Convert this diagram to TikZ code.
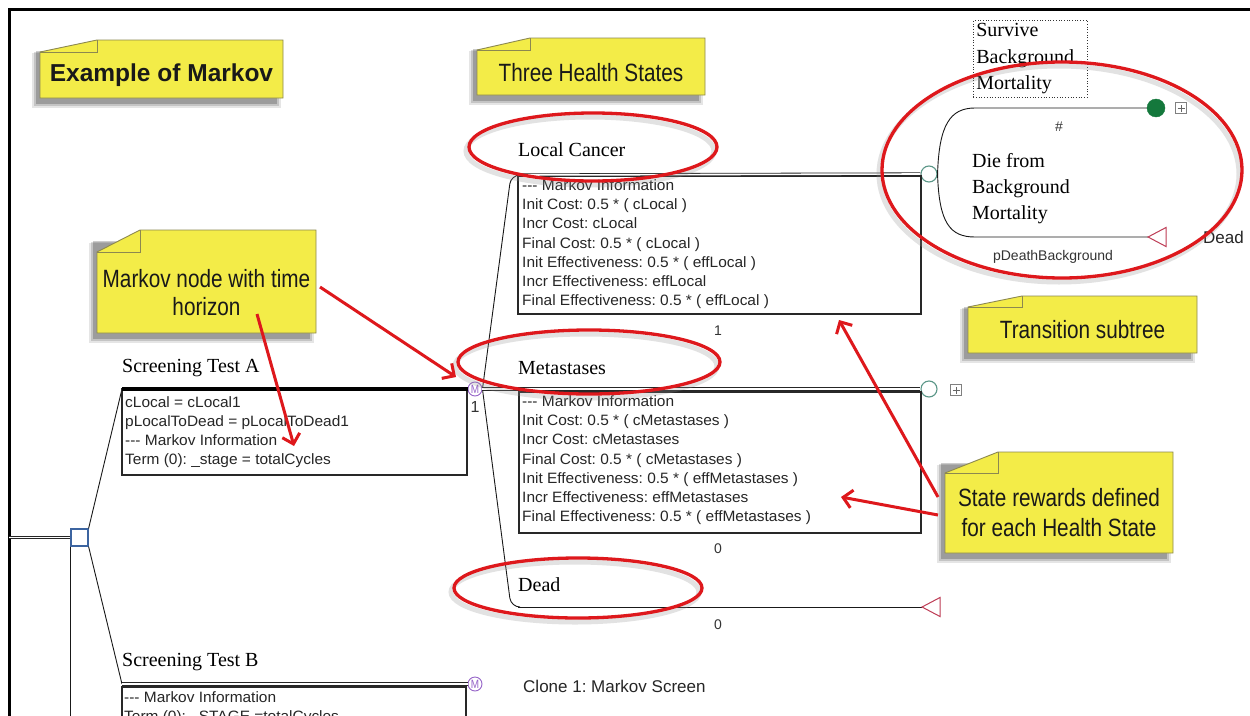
\documentclass[tikz,border=0pt]{standalone}
\usepackage{fontspec}
\setmainfont{Liberation Serif}
\newfontfamily\arialf{Liberation Sans}
\newfontfamily\infof[FakeStretch=1.03]{Liberation Sans}
\newfontfamily\narrowf[FakeStretch=0.83]{Liberation Sans}
\usetikzlibrary{arrows.meta,calc}
\frenchspacing

\definecolor{noteyellow}{RGB}{243,236,72}
\definecolor{noteedge}{RGB}{140,136,80}
\definecolor{markred}{RGB}{222,24,28}
\definecolor{chanceteal}{RGB}{90,150,135}
\definecolor{markovpurple}{RGB}{150,100,200}
\definecolor{termred}{RGB}{190,60,85}
\definecolor{decblue}{RGB}{60,100,160}
\definecolor{boxedge}{RGB}{40,40,40}
\definecolor{survgreen}{RGB}{20,120,60}

\newcommand\tripledash{-\kern0pt-\kern0pt-}

\tikzset{
  dbl/.style={draw=black!85, double=white, double distance=1.6pt, line width=0.8pt},
  branchline/.style={draw=black!90, line width=0.9pt},
  thickbranch/.style={draw=black, line width=4.5pt},
  infobox/.style={draw=boxedge, line width=1.3pt},
  infotext/.style={font=\infof\fontsize{15}{19.2}\selectfont, text=black!85, align=left, anchor=north west, inner sep=0pt},
  tlabel/.style={font=\fontsize{20}{26}\selectfont, anchor=west, inner sep=0pt},
  smalltext/.style={font=\arialf\fontsize{14}{16}\selectfont, text=black!80, inner sep=0pt},
  chance/.style={circle, draw=chanceteal, line width=1.1pt, fill=white, minimum size=16pt, inner sep=0pt},
  markov/.style={circle, draw=markovpurple, line width=0.9pt, fill=white, minimum size=14pt, inner sep=0pt, text=markovpurple, font=\narrowf\fontsize{12}{12}\selectfont},
  decision/.style={rectangle, draw=decblue, line width=1.2pt, fill=white, minimum size=17pt, inner sep=0pt},
  plusbox/.style={rectangle, draw=black!50, line width=0.7pt, minimum size=11pt, inner sep=0pt, fill=white,
    path picture={\draw[black!60, line width=0.7pt]
      ([xshift=-3.5pt]path picture bounding box.center) -- ([xshift=3.5pt]path picture bounding box.center)
      ([yshift=-3.5pt]path picture bounding box.center) -- ([yshift=3.5pt]path picture bounding box.center);}},
  termtri/.style={draw=termred, line width=1pt, fill=white},
  notebody/.style={fill=noteyellow, draw=noteedge, line width=0.9pt},
  notefold/.style={draw=noteedge, line width=0.9pt},
  notetext/.style={text=black!90, align=center, inner sep=0pt},
  ring/.style={draw=markred, line width=3.3pt},
  ringshadow/.style={draw=black!45, opacity=.25, line width=5pt},
  callout/.style={draw=markred, line width=3pt, -{Straight Barb[length=9pt,width=18pt]}},
}

% sticky note: name, left, top, right, bottom, tab width, tab height, font, text
\newcommand\stickynote[9]{%
  \fill[black, opacity=.10] (#2-8,#3+13) rectangle (#4-2,#5+10);
  \fill[black, opacity=.14] (#2-6,#3+12) rectangle (#4-4,#5+8);
  \fill[black, opacity=.20] (#2-4,#3+11) rectangle (#4-6,#5+6);
  \filldraw[notebody] (#2,#5) -- (#2,#3+#7) -- (#2+#6,#3) -- (#4,#3) -- (#4,#5) -- cycle;
  \draw[notefold] (#2,#3+#7) -- (#2+#6,#3+#7) -- (#2+#6,#3);
  \node[notetext, font=#8] (#1) at ({(#2+#4)/2},{(#3+#7+#5)/2}) {#9};
}

\begin{document}
\begin{tikzpicture}[x=1pt,y=-1pt]
\useasboundingbox (0,0) rectangle (1250,715);
\clip (0,0) rectangle (1250,715);
\fill[white] (0,0) rectangle (1250,715);

% frame
\draw[line width=3pt] (9,720) -- (9,9) -- (1255,9);

% ---------- decision node and strategies ----------
\node[decision] (dec) at (79.5,537.5) {};
\draw[dbl] (9,537.5) -- (dec.west);
\draw[branchline] (dec.south west) -- ++(0,200);

\coordinate (Astart) at (122,389);
\coordinate (Bstart) at (122,684);
\node[markov] (mA) at (475,389) {M};
\node[markov] (mB) at (475,684) {M};

\draw[branchline] (dec.north east) -- (Astart);
\draw[branchline] (dec.south east) -- (Bstart);

\draw[infobox] (122,389) rectangle (467,475);
\draw[thickbranch] (Astart) -- (mA.west);
\node[tlabel] (labA) at (122,368) {Screening Test A};
\node[infotext] (txtA) at (125,396) {cLocal = cLocal1\\pLocalToDead = pLocalToDead1\\\tripledash{} Markov Information\\Term (0): \_stage = totalCycles};
\node[smalltext, font=\arialf\fontsize{16}{18}\selectfont] (oneA) at (475,407) {1};

\draw[infobox] (122,687) rectangle (466,760);
\draw[dbl] (Bstart) -- (mB.west);
\node[tlabel] (labB) at (122,662) {Screening Test B};
\node[infotext] (txtB) at (124,691) {\tripledash{} Markov Information\\Term (0): \_STAGE =totalCycles};
\node[font=\arialf\fontsize{17}{19}\selectfont, anchor=west, inner sep=0pt, text=black!85] (clone) at (523,686) {Clone 1: Markov Screen};

% ---------- Markov health states ----------
\coordinate (lcStart) at (518,175);
\coordinate (deadStart) at (518,607);
\coordinate (tDead) at (922,607);
\node[chance] (chLC) at (929,174) {};
\node[chance] (chMet) at (929,389) {};
\node[plusbox] (plMet) at (956,390) {};

\draw[branchline, rounded corners=9pt] (mA.east) -- (511,175) -- (lcStart);
\draw[branchline, rounded corners=9pt] (mA.east) -- (511,607) -- (deadStart);

% Local Cancer
\draw[infobox] (518,176) rectangle (921,314);
\draw[dbl] (lcStart) -- (chLC.west);
\node[tlabel] (labLC) at (518,150) {Local Cancer};
\node[infotext] (txtLC) at (522,179.5) {\tripledash{} Markov Information\\Init Cost: 0.5 * ( cLocal )\\Incr Cost: cLocal\\Final Cost: 0.5 * ( cLocal )\\Init Effectiveness: 0.5 * ( effLocal )\\Incr Effectiveness: effLocal\\Final Effectiveness: 0.5 * ( effLocal )};
\node[smalltext] (pLC) at (718,331) {1};

% Metastases
\draw[infobox] (519,392) rectangle (921,533);
\draw[dbl] (mA.east) -- (chMet.west);
\node[tlabel] (labMet) at (518,368) {Metastases};
\node[infotext] (txtMet) at (522,395.5) {\tripledash{} Markov Information\\Init Cost: 0.5 * ( cMetastases )\\Incr Cost: cMetastases\\Final Cost: 0.5 * ( cMetastases )\\Init Effectiveness: 0.5 * ( effMetastases )\\Incr Effectiveness: effMetastases\\Final Effectiveness: 0.5 * ( effMetastases )};
\node[smalltext] (pMet) at (718,549) {0};

% Dead
\draw[branchline] (deadStart) -- (tDead);
\draw[termtri] (tDead) -- ++(18,-9.5) -- ++(0,19) -- cycle;
\node[tlabel] (labDead) at (518,585) {Dead};
\node[smalltext] (pDead) at (718,625) {0};

% ---------- transition subtree ----------
\coordinate (survStart) at (975,108);
\coordinate (dieStart) at (975,237);
\coordinate (tDead2) at (1148,237);
\node[circle, fill=survgreen, draw=survgreen, minimum size=18pt, inner sep=0pt] (green) at (1156,108) {};
\node[plusbox] (plSurv) at (1181,108) {};

\draw[branchline] (chLC.east) .. controls (939,125) and (950,108) .. (survStart) -- (green.west);
\draw[branchline] (chLC.east) .. controls (939,223) and (950,237) .. (dieStart) -- (tDead2);
\draw[termtri] (tDead2) -- ++(18,-9.5) -- ++(0,19) -- cycle;

\node[draw=black!80, dotted, line width=0.7pt, anchor=north west, align=left, inner sep=3pt,
      minimum width=114pt, text width=108pt, font=\fontsize{20}{26.5}\selectfont] (surv) at (973,20) {Survive\\Background\\Mortality};
\node[smalltext] (hash) at (1059,127) {\#};
\node[font=\fontsize{20}{26}\selectfont, anchor=west, align=left, inner sep=0pt] (die) at (972,189) {Die from\\Background\\Mortality};
\node[smalltext] (pdb) at (1053,257) {pDeathBackground};
\node[font=\arialf\fontsize{17}{19}\selectfont, anchor=west, inner sep=0pt, text=black!85] (deadLbl) at (1203,237) {Dead};

% ---------- sticky notes ----------
\stickynote{noteEx}{40}{40}{283}{98}{57}{12}{\arialf\bfseries\fontsize{24.5}{28}\selectfont}{Example of Markov}
\stickynote{noteStates}{477}{38}{705}{95}{53}{12}{\narrowf\fontsize{25}{29}\selectfont}{Three Health States}
\stickynote{noteMk}{97}{230}{316}{333}{43}{22}{\narrowf\fontsize{25}{28}\selectfont}{Markov node with time\\horizon}
\stickynote{noteTr}{968}{296}{1197}{353}{54}{11}{\narrowf\fontsize{25}{29}\selectfont}{Transition subtree}
\stickynote{noteSR}{945}{452}{1173}{553}{53}{21}{\narrowf\fontsize{25}{30}\selectfont}{State rewards defined\\for each Health State}

% ---------- red highlight rings ----------
\draw[ringshadow] (590,151) ellipse [x radius=124, y radius=34];
\draw[ring] (593,147) ellipse [x radius=124, y radius=34];
\draw[ringshadow] (586,366) ellipse [x radius=131, y radius=32];
\draw[ring] (589,362) ellipse [x radius=131, y radius=32];
\draw[ringshadow] (575,592) ellipse [x radius=124, y radius=30];
\draw[ring] (578,588) ellipse [x radius=124, y radius=30];
\draw[ringshadow] (1059,174) ellipse [x radius=180, y radius=108];
\draw[ring] (1062,170) ellipse [x radius=180, y radius=108];

% ---------- red callout arrows ----------
\coordinate (a1s) at (320,287);
\coordinate (a1e) at (456,377);
\coordinate (a2s) at (257,314);
\coordinate (a2e) at (294,446);
\coordinate (a3s) at (938,497);
\coordinate (a3e) at (839,320);
\coordinate (a4s) at (938,515);
\coordinate (a4e) at (841,497);
\draw[callout] (a1s) -- (a1e);
\draw[callout] (a2s) -- (a2e);
\draw[callout] (a3s) -- (a3e);
\draw[callout] (a4s) -- (a4e);
\end{tikzpicture}
\end{document}
